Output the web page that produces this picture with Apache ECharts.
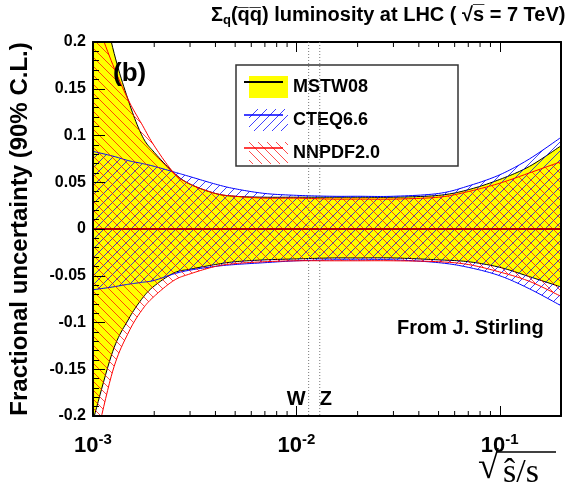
<!DOCTYPE html>
<html lang="en">
<head>
<meta charset="utf-8" />
<title>qqbar luminosity uncertainty at LHC 7 TeV</title>
<script src="https://cdn.jsdelivr.net/npm/echarts@6/dist/echarts.min.js"></script>
<style>
  html, body { margin: 0; padding: 0; background: #fff; }
  #chart { width: 567px; height: 493px; }
</style>
</head>
<body>
<div id="chart"></div>
<script>
// sqrt(shat/s) sample points
var xs = [0.001, 0.00125, 0.0015, 0.00175, 0.002, 0.0025, 0.003, 0.004, 0.005, 0.007,
          0.01, 0.015, 0.02, 0.03, 0.05, 0.07, 0.1, 0.14, 0.2]
// fractional uncertainty bands (upper / lower edge)
var mstwHi  = [0.29, 0.194, 0.136, 0.099, 0.082, 0.060, 0.048, 0.038, 0.035, 0.034, 0.034, 0.034, 0.034, 0.034, 0.036, 0.042, 0.053, 0.067, 0.089]
var mstwLo  = [-0.205, -0.131, -0.096, -0.074, -0.061, -0.047, -0.043, -0.038, -0.035, -0.033, -0.032, -0.031, -0.031, -0.031, -0.033, -0.035, -0.041, -0.051, -0.062]
var cteqHi  = [0.083, 0.078, 0.073, 0.070, 0.067, 0.061, 0.056, 0.048, 0.043, 0.038, 0.036, 0.035, 0.035, 0.035, 0.038, 0.046, 0.058, 0.075, 0.098]
var cteqLo  = [-0.065, -0.062, -0.059, -0.057, -0.055, -0.048, -0.044, -0.040, -0.038, -0.036, -0.034, -0.033, -0.033, -0.033, -0.036, -0.041, -0.050, -0.064, -0.082]
var nnpdfHi = [0.232, 0.176, 0.137, 0.111, 0.089, 0.060, 0.048, 0.038, 0.035, 0.033, 0.033, 0.032, 0.032, 0.032, 0.034, 0.040, 0.049, 0.060, 0.072]
var nnpdfLo = [-0.24, -0.152, -0.110, -0.086, -0.072, -0.055, -0.048, -0.040, -0.037, -0.035, -0.034, -0.034, -0.034, -0.034, -0.035, -0.038, -0.046, -0.056, -0.072]

var minorTicks = [0.002, 0.003, 0.004, 0.005, 0.006, 0.007, 0.008, 0.009,
                  0.02, 0.03, 0.04, 0.05, 0.06, 0.07, 0.08, 0.09, 0.2]
var bosonNames = ['W', 'Z']
var bosonX = [0.01149, 0.01303]

var FONT = '"Liberation Sans", Arial, Helvetica, sans-serif'
var SERIF = '"Liberation Serif", "DejaVu Serif", serif'

function hatch(color, slash) {
  var c = document.createElement('canvas')
  c.width = 9; c.height = 9
  var g = c.getContext('2d')
  g.strokeStyle = color
  g.lineWidth = 1
  g.beginPath()
  if (slash) {
    g.moveTo(-1, 10); g.lineTo(10, -1)
    g.moveTo(-1, 1); g.lineTo(1, -1)
    g.moveTo(8, 10); g.lineTo(10, 8)
  } else {
    g.moveTo(-1, -1); g.lineTo(10, 10)
    g.moveTo(8, -1); g.lineTo(10, 1)
    g.moveTo(-1, 8); g.lineTo(1, 10)
  }
  g.stroke()
  return { image: c, repeat: 'repeat' }
}
var blueHatch = hatch('rgba(0,0,255,0.75)', true)
var redHatch = hatch('rgba(255,0,0,0.7)', false)

// catmull-rom through pixel points, only for drawing smooth edges
function spline(p) {
  var out = []
  for (var i = 0; i < p.length - 1; i++) {
    var p0 = p[Math.max(i - 1, 0)], p1 = p[i], p2 = p[i + 1], p3 = p[Math.min(i + 2, p.length - 1)]
    for (var k = 0; k < 12; k++) {
      var t = k / 12, t2 = t * t, t3 = t2 * t
      out.push([0, 1].map(function (d) {
        return 0.5 * (2 * p1[d] + (-p0[d] + p2[d]) * t + (2 * p0[d] - 5 * p1[d] + 4 * p2[d] - p3[d]) * t2 +
          (-p0[d] + 3 * p1[d] - 3 * p2[d] + p3[d]) * t3)
      }))
    }
  }
  out.push(p[p.length - 1])
  return out
}

function band(name, hi, lo, fill, edge, z) {
  return {
    name: name,
    type: 'custom',
    z: z,
    silent: true,
    itemStyle: { color: fill },
    data: xs.map(function (x, i) { return [Math.log10(x), lo[i], hi[i]] }),
    encode: { x: 0, y: [1, 2] },
    renderItem: function (params, api) {
      if (params.dataIndex !== 0) return
      var up = spline(xs.map(function (x, i) { return api.coord([Math.log10(x), hi[i]]) }))
      var dn = spline(xs.map(function (x, i) { return api.coord([Math.log10(x), lo[i]]) }))
      var cs = params.coordSys
      return {
        type: 'group',
        clipPath: { type: 'rect', shape: { x: cs.x, y: cs.y, width: cs.width, height: cs.height } },
        children: [
          { type: 'polygon', shape: { points: up.concat(dn.slice().reverse()) }, style: { fill: fill, stroke: null } },
          { type: 'polyline', shape: { points: up }, style: { fill: null, stroke: edge, lineWidth: 1 } },
          { type: 'polyline', shape: { points: dn }, style: { fill: null, stroke: edge, lineWidth: 1 } }
        ]
      }
    }
  }
}

var chart = echarts.init(document.getElementById('chart'), null, { renderer: 'canvas' })

var axisLine = { show: true, onZero: false, lineStyle: { color: '#000', width: 2 } }

chart.setOption({
  animation: false,
  backgroundColor: '#fff',
  grid: { left: 89, right: 6, top: 42, bottom: 77 },
  xAxis: [{
    type: 'value', min: -3, max: Math.log10(0.2), interval: 1, z: 5,
    axisLine: axisLine,
    axisTick: { inside: true, length: 10, lineStyle: { color: '#000', width: 1 } },
    splitLine: { show: false },
    axisLabel: {
      margin: 16, color: '#000', fontFamily: FONT, showMaxLabel: false,
      formatter: function (v) {
        var r = Math.round(v)
        if (Math.abs(v - r) > 1e-6) return ''
        return '{b|10}{s|' + r + '}'
      },
      rich: {
        b: { fontSize: 22, fontWeight: 'bold', fontFamily: FONT, color: '#000' },
        s: { fontSize: 15, fontWeight: 'bold', fontFamily: FONT, color: '#000', padding: [0, 0, 13, 0] }
      }
    }
  }, {
    type: 'value', position: 'top', min: -3, max: Math.log10(0.2), interval: 1, z: 5,
    axisLine: axisLine,
    axisTick: { inside: true, length: 10, lineStyle: { color: '#000', width: 1 } },
    axisLabel: { show: false },
    splitLine: { show: false }
  }],
  yAxis: [{
    type: 'value', min: -0.2, max: 0.2, interval: 0.05, z: 5,
    name: 'Fractional uncertainty (90% C.L.)',
    nameLocation: 'middle', nameGap: 61,
    nameTextStyle: { fontSize: 24, fontWeight: 'bold', fontFamily: FONT, color: '#000' },
    axisLine: axisLine,
    axisTick: { inside: true, length: 12, lineStyle: { color: '#000', width: 1 } },
    minorTick: { show: true, splitNumber: 5, length: 6, lineStyle: { color: '#000', width: 1 } },
    splitLine: { show: false },
    axisLabel: {
      margin: 7, fontSize: 16, fontWeight: 'bold', fontFamily: FONT, color: '#000',
      formatter: function (v) { return String(Math.round(v * 100) / 100) }
    }
  }, {
    type: 'value', position: 'right', min: -0.2, max: 0.2, z: 5,
    axisLine: axisLine, axisTick: { show: false }, axisLabel: { show: false }, splitLine: { show: false }
  }],
  legend: {
    left: 244, top: 71, orient: 'vertical', icon: 'rect', selectedMode: false,
    itemWidth: 39, itemHeight: 22, itemGap: 11,
    textStyle: { fontSize: 18, fontWeight: 'bold', fontFamily: FONT, color: '#000' },
    data: [
      { name: 'MSTW08', itemStyle: { color: '#ffff00' } },
      { name: 'CTEQ6.6', itemStyle: { color: blueHatch } },
      { name: 'NNPDF2.0', itemStyle: { color: redHatch } }
    ]
  },
  graphic: [
    { type: 'rect', z: 1, shape: { x: 236, y: 65, width: 222, height: 101 }, style: { fill: '#fff', stroke: '#333', lineWidth: 1.5 } },
    { type: 'line', z: 100, shape: { x1: 244, y1: 82, x2: 283, y2: 82 }, style: { stroke: '#000', lineWidth: 2 } },
    { type: 'line', z: 100, shape: { x1: 244, y1: 115, x2: 283, y2: 115 }, style: { stroke: '#0000ff', lineWidth: 1.5 } },
    { type: 'line', z: 100, shape: { x1: 244, y1: 148, x2: 283, y2: 148 }, style: { stroke: '#ff0000', lineWidth: 1.5 } },
    {
      type: 'text', left: 211, top: 5,
      style: {
        text: '{t|Σ}{q|q}{t|(q̅q̅) luminosity at LHC ( √s̅ = 7 TeV)}',
        rich: {
          t: { fontSize: 20, fontWeight: 'bold', fontFamily: FONT, fill: '#000' },
          q: { fontSize: 13, fontWeight: 'bold', fontFamily: FONT, fill: '#000', padding: [10, 0, 0, 0] }
        }
      }
    },
    { type: 'text', z: 100, left: 113, top: 61, style: { text: '(b)', fontSize: 26, fontWeight: 'bold', fontFamily: FONT, fill: '#000' } },
    { type: 'text', z: 100, left: 397, top: 318, style: { text: 'From J. Stirling', fontSize: 20, fontWeight: 'bold', fontFamily: FONT, fill: '#000' } },
    { type: 'text', left: 478, top: 449, style: { text: '√', fontSize: 38, fontFamily: SERIF, fill: '#000' } },
    { type: 'line', shape: { x1: 496, y1: 452, x2: 556, y2: 452 }, style: { stroke: '#000', lineWidth: 1.3 } },
    { type: 'text', left: 503, top: 456, style: { text: 'ŝ/s', fontSize: 34, fontFamily: SERIF, fill: '#000' } }
  ],
  series: [
    band('MSTW08', mstwHi, mstwLo, '#ffff00', '#000', 2),
    band('CTEQ6.6', cteqHi, cteqLo, blueHatch, '#0000ff', 3),
    band('NNPDF2.0', nnpdfHi, nnpdfLo, redHatch, '#ff0000', 4),
    {
      // central value and W/Z markers
      type: 'custom', z: 6, silent: true,
      data: bosonX.map(function (x, i) { return [Math.log10(x), 0, i] }),
      encode: { x: 0, y: 1 },
      renderItem: function (params, api) {
        var cs = params.coordSys
        var x = api.coord([api.value(0), 0])[0]
        var i = api.value(2)
        return {
          type: 'group',
          children: [
            { type: 'line', shape: { x1: x, y1: cs.y, x2: x, y2: cs.y + cs.height }, style: { stroke: '#777', lineWidth: 1, lineDash: [1, 2] } },
            {
              type: 'text', x: i === 0 ? x - 3 : x, y: cs.y + cs.height - 17,
              style: { text: bosonNames[i], fontSize: 20, fontWeight: 'bold', fontFamily: FONT, fill: '#000', align: i === 0 ? 'right' : 'left', verticalAlign: 'middle' }
            }
          ]
        }
      },
      markLine: {
        symbol: 'none', silent: true, label: { show: false },
        lineStyle: { color: '#b00000', width: 2, type: 'solid' },
        data: [{ yAxis: 0 }]
      }
    },
    {
      // log minor ticks on bottom and top frame
      type: 'custom', z: 6, silent: true,
      data: minorTicks.map(function (v) { return [Math.log10(v), 0] }),
      encode: { x: 0, y: 1 },
      renderItem: function (params, api) {
        var cs = params.coordSys
        var x = api.coord([api.value(0), 0])[0]
        var b = cs.y + cs.height
        return {
          type: 'group',
          children: [
            { type: 'line', shape: { x1: x, y1: b, x2: x, y2: b - 5 }, style: { stroke: '#000', lineWidth: 1 } },
            { type: 'line', shape: { x1: x, y1: cs.y, x2: x, y2: cs.y + 5 }, style: { stroke: '#000', lineWidth: 1 } }
          ]
        }
      }
    }
  ]
})
</script>
</body>
</html>
